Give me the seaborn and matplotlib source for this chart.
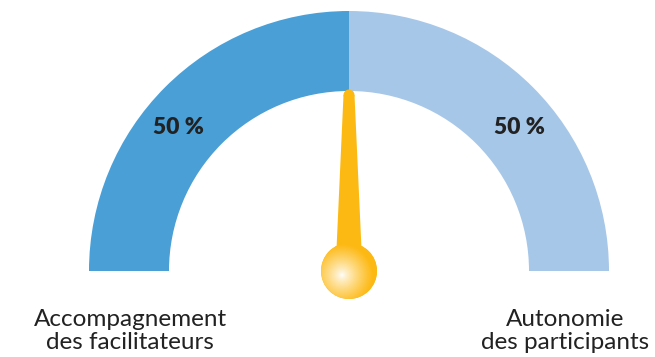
import numpy as np
import matplotlib
matplotlib.use("Agg")
import matplotlib.pyplot as plt
import seaborn as sns
from matplotlib.patches import Circle

categories = ["Accompagnement\ndes facilitateurs", "Autonomie\ndes participants"]
values = [50, 50]
value_labels = ["50 %", "50 %"]
needle_value = 50  # percent along the gauge from left

colors = ["#4A9FD6", "#A7C7E8"]
needle_color = "#FDB913"

sns.set_theme(style="white")
plt.rcParams["font.family"] = ["Lato", "DejaVu Sans"]

W, H = 655, 357
fig = plt.figure(figsize=(W / 100, H / 100), dpi=100)
ax = fig.add_axes([0, 0, 1, 1])

cx, cy = 349, H - 271
R_out, R_in = 260, 180

total = sum(values)
ax.pie(values + [total], colors=colors + ["none"], startangle=180, counterclock=False,
       radius=R_out, center=(cx, cy), frame=True,
       wedgeprops=dict(width=R_out - R_in, linewidth=0))
ax.set_xlim(0, W)
ax.set_ylim(0, H)
ax.set_aspect("equal")
ax.axis("off")

# value labels
acc = 0
for v, t in zip(values, value_labels):
    a = 180 - (acc + v / 2) / total * 180
    acc += v
    x = cx + 241 * np.cos(np.radians(a))
    y = H - 127
    ax.text(x, y, t, ha="center", va="center", fontsize=16.5, fontweight="heavy", color="#222222")

# category labels
ax.text(130, H - 331, categories[0], ha="center", va="center", fontsize=17.5,
        color="#222222", linespacing=1.12)
ax.text(565, H - 331, categories[1], ha="center", va="center", fontsize=17.5,
        color="#222222", linespacing=1.12)

# needle
theta = np.radians(180 - needle_value / 100 * 180)
L = 176
ux, uy = np.cos(theta), np.sin(theta)
px, py = -uy, ux
w_base, w_tip = 12.5, 5.5
base_off = 22
bx, by = cx + ux * base_off, cy + uy * base_off
tx, ty = cx + ux * L, cy + uy * L
poly_x = [bx + px * w_base, tx + px * w_tip, tx - px * w_tip, bx - px * w_base]
poly_y = [by + py * w_base, ty + py * w_tip, ty - py * w_tip, by - py * w_base]
ax.fill(poly_x, poly_y, color=needle_color, lw=0, zorder=3)
ax.add_patch(Circle((tx, ty), w_tip, color=needle_color, lw=0, zorder=3))

# ball with radial gradient
rb = 28
circ = Circle((cx, cy), rb, facecolor=needle_color, lw=0, zorder=4)
ax.add_patch(circ)
n = 200
xs = np.linspace(cx - rb, cx + rb, n)
ys = np.linspace(cy - rb, cy + rb, n)
XX, YY = np.meshgrid(xs, ys)
hx, hy = cx - 7, cy - 4
d = np.sqrt((XX - hx) ** 2 + (YY - hy) ** 2) / (rb * 1.1)
d = np.clip(d, 0, 1)
c0 = np.array([1.0, 1.0, 1.0])
c1 = np.array(matplotlib.colors.to_rgb(needle_color))
tt = d ** 0.8
img = (1 - tt)[..., None] * c0 + tt[..., None] * c1
im = ax.imshow(img, extent=(cx - rb, cx + rb, cy - rb, cy + rb), origin="lower", zorder=5)
im.set_clip_path(circ)
ax.set_xlim(0, W)
ax.set_ylim(0, H)

fig.savefig("out.png", dpi=100)
